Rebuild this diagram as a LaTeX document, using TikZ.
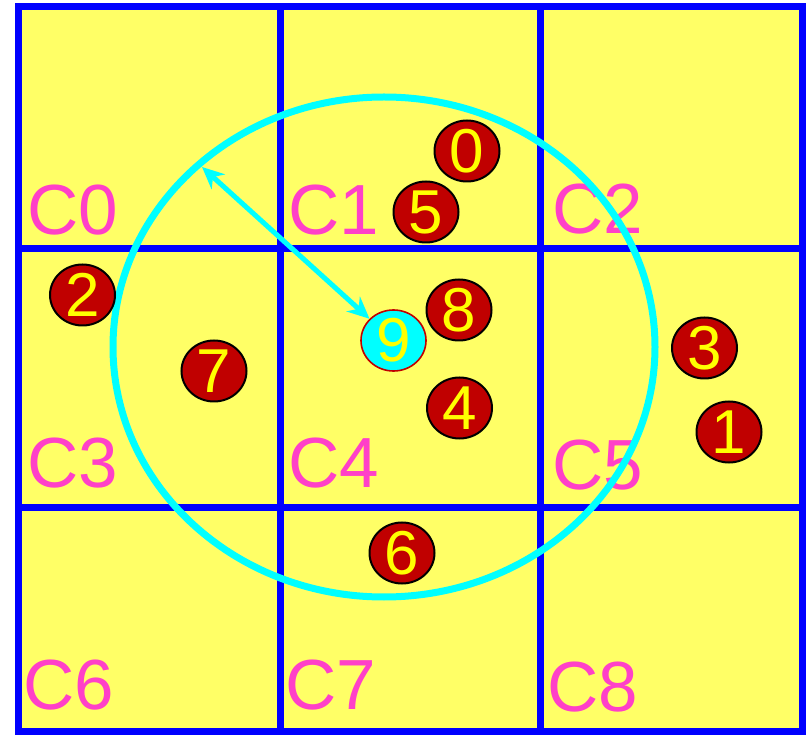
\documentclass[tikz,border=0pt]{standalone}
\usepackage{fontspec}
\setmainfont{Liberation Sans}
\usetikzlibrary{shapes.geometric,arrows.meta}
\definecolor{cellyellow}{RGB}{255,255,102}
\definecolor{gridblue}{RGB}{0,0,255}
\definecolor{labelpink}{RGB}{255,64,200}
\definecolor{ballred}{RGB}{192,0,0}
\definecolor{digityellow}{RGB}{255,255,0}
\definecolor{rangecyan}{RGB}{0,255,255}
\tikzset{
  gridline/.style={draw=gridblue,line width=7pt},
  celllabel/.style={anchor=base west,inner sep=0pt,text=labelpink,font=\fontsize{71}{71}\selectfont},
  ball/.style={ellipse,draw=black,line width=2pt,fill=ballred,minimum width=65pt,minimum height=61pt,
    inner sep=0pt,text=digityellow,font=\fontsize{62}{62}\selectfont,text height=43pt,text depth=0pt},
  queryball/.style={ball,fill=rangecyan,draw=ballred,line width=1.6pt},
  rangecircle/.style={draw=rangecyan,line width=7pt},
  radiusarrow/.style={draw=rangecyan,line width=5pt,{Stealth[length=22pt,width=20pt]}-{Stealth[length=22pt,width=20pt]}}
}
\begin{document}
\begin{tikzpicture}[x=1pt,y=-1pt]
\useasboundingbox (0,0) rectangle (807,735);
% cells
\fill[cellyellow] (18,7) rectangle (802.5,731);
\draw[gridline] (18,7) rectangle (802.5,731);
\draw[gridline] (280,7) -- (280,731);
\draw[gridline] (540,7) -- (540,731);
\draw[gridline] (18,249) -- (802.5,249);
\draw[gridline] (18,508) -- (802.5,508);
% labels
\node[celllabel] (c0) at (27,235) {C0};
\node[celllabel] (c1) at (288,235) {C1};
\node[celllabel] (c2) at (552,234) {C2};
\node[celllabel] (c3) at (27,488) {C3};
\node[celllabel] (c4) at (288,488) {C4};
\node[celllabel] (c5) at (552,490) {C5};
\node[celllabel] (c6) at (23,709) {C6};
\node[celllabel] (c7) at (285,709) {C7};
\node[celllabel] (c8) at (547,711) {C8};
% range circle
\draw[rangecircle] (384,347) ellipse [x radius=271, y radius=250];
% points
\node[ball] (n0) at (467,151) {0};
\node[ball] (n5) at (426,212) {5};
\node[ball] (n8) at (459,310) {8};
\node[ball] (n4) at (459.5,408) {4};
\node[ball] (n2) at (82.5,295) {2};
\node[ball] (n7) at (214,371) {7};
\node[ball] (n3) at (704.5,348) {3};
\node[ball] (n1) at (729,432) {1};
\node[ball] (n6) at (402,553) {6};
\node[queryball] (n9) at (393.5,340.5) {9};
% radius arrow
\coordinate (redge) at (202,167);
\draw[radiusarrow] (redge) -- (n9);
\end{tikzpicture}
\end{document}
